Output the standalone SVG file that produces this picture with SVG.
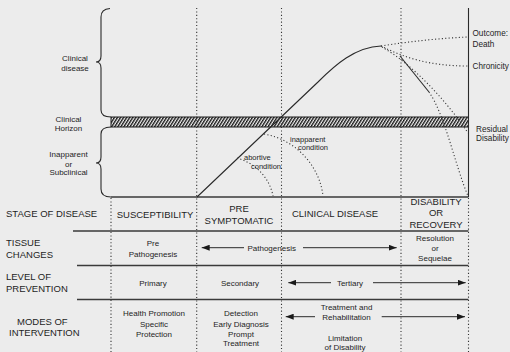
<svg xmlns="http://www.w3.org/2000/svg" width="510" height="352" viewBox="0 0 510 352">
<defs>
<style>
text{font-family:"Liberation Sans",Arial,sans-serif;fill:#1e1e1e}
.cap{font-size:9.5px}
.t8{font-size:8px}
.t85{font-size:8.2px}
.t75{font-size:7.5px}
.mid{text-anchor:middle}
.dot{fill:none;stroke:#333;stroke-width:1.1;stroke-dasharray:1.1 2.3}
.sol{fill:none;stroke:#2a2a2a;stroke-width:1.1}
.rule{fill:none;stroke:#3a3a3a;stroke-width:1.3}
.arr{fill:none;stroke:#2a2a2a;stroke-width:1;marker-end:url(#ah)}
</style>
<marker id="ah" markerUnits="userSpaceOnUse" markerWidth="8" markerHeight="6" refX="8" refY="3" orient="auto">
<path d="M0,0 L8,3 L0,6 z" fill="#1a1a1a"/>
</marker>
<pattern id="hatch" width="2.6" height="6" patternUnits="userSpaceOnUse" patternTransform="rotate(32)">
<rect width="2.6" height="6" fill="#f2f2f2"/>
<rect width="1.35" height="6" fill="#151515"/>
</pattern>
</defs>
<rect width="510" height="352" fill="#ececec"/>

<g id="plot-frame">
<rect x="111" y="117" width="357.5" height="10" fill="url(#hatch)" stroke="#1a1a1a" stroke-width="1"/>
<path class="sol" d="M110,8.5 Q101,9 101,17 L101,56 Q101,62 96,62 Q101,62 101,68 L101,110 Q101,117 111,117"/>
<path class="sol" d="M111,127 Q101,127 101,134 L101,157 Q101,163 96,163 Q101,163 101,169 L101,189 Q101,197 111,197"/>
<line class="rule" x1="111" y1="197" x2="468.5" y2="197"/>
<line class="sol" x1="468.5" y1="8" x2="468.5" y2="197"/>
</g>

<g id="gridlines">
<line class="dot" x1="196.7" y1="8" x2="196.7" y2="352"/>
<line class="dot" x1="281.5" y1="8" x2="281.5" y2="352"/>
<line class="dot" x1="401" y1="8" x2="401" y2="352"/>
<line class="dot" x1="111" y1="198" x2="111" y2="352"/>
<line class="dot" x1="468.5" y1="198" x2="468.5" y2="352"/>
<line class="rule" x1="73" y1="231" x2="468.5" y2="231"/>
<line class="rule" x1="77" y1="265.5" x2="468.5" y2="265.5"/>
<line class="rule" x1="77" y1="299.5" x2="468.5" y2="299.5"/>
</g>

<g id="connectors">
<path class="sol" d="M197,197 L318,82 C335,65 355,47 381,46"/>
<path class="dot" d="M381,46 Q425,39 468,37"/>
<path class="dot" d="M381,46 C405,58 430,66 468,66"/>
<path class="dot" d="M382,47 C412,64 446,100 468,133"/>
<path class="sol" stroke-width="0.8" d="M400,56 L429,92"/>
<path class="dot" d="M429,92 C445,115 455,165 468,196"/>
<path class="dot" d="M264,134 C298,140 320,168 323,196"/>
<path class="dot" d="M237,158 C258,164 270,180 273,196"/>
<line class="arr" x1="244" y1="247.7" x2="201.7" y2="247.7"/>
<line class="arr" x1="303" y1="247.7" x2="396.7" y2="247.7"/>
<line class="arr" x1="331" y1="282.7" x2="288.3" y2="282.7"/>
<line class="arr" x1="373" y1="282.7" x2="465.7" y2="282.7"/>
<line class="arr" x1="315" y1="316.7" x2="285.7" y2="316.7"/>
<line class="arr" x1="381.7" y1="316.7" x2="465" y2="316.7"/>
</g>

<g id="axis-labels">
<text class="t8 mid" x="75" y="61">Clinical</text>
<text class="t8 mid" x="75" y="70.5">disease</text>
<text class="t8 mid" x="68.5" y="122">Clinical</text>
<text class="t8 mid" x="68.5" y="130.5">Horizon</text>
<text class="t8 mid" x="68.5" y="157">Inapparent</text>
<text class="t8 mid" x="68.5" y="166.5">or</text>
<text class="t8 mid" x="68.5" y="175">Subclinical</text>
<text class="t85" x="472.5" y="36">Outcome:</text>
<text class="t85" x="472.5" y="46.5">Death</text>
<text class="t85" x="472.5" y="69">Chronicity</text>
<text class="t85" x="476" y="132">Residual</text>
<text class="t85" x="476" y="141">Disability</text>
<text class="t75" x="244" y="159.5">abortive</text>
<text class="t75" x="251" y="168.5">condition</text>
<text class="t75" x="290" y="141.5">inapparent</text>
<text class="t75" x="298" y="150">condition</text>
</g>

<g id="row-stage">
<text class="cap" x="6" y="217">STAGE OF DISEASE</text>
<text class="cap mid" x="155" y="217.5">SUSCEPTIBILITY</text>
<text class="cap mid" x="239" y="212">PRE</text>
<text class="cap mid" x="239" y="223.5">SYMPTOMATIC</text>
<text class="cap mid" x="335" y="217">CLINICAL DISEASE</text>
<text class="cap mid" x="436" y="204.5">DISABILITY</text>
<text class="cap mid" x="436" y="216">OR</text>
<text class="cap mid" x="436" y="227.5">RECOVERY</text>
</g>

<g id="row-tissue">
<text class="cap" x="6" y="246">TISSUE</text>
<text class="cap" x="6" y="257.5">CHANGES</text>
<text class="t8 mid" x="153" y="246">Pre</text>
<text class="t8 mid" x="153" y="256.5">Pathogenesis</text>
<text class="t8 mid" x="271.7" y="250.6">Pathogenesis</text>
<text class="t8 mid" x="435" y="241">Resolution</text>
<text class="t8 mid" x="435" y="250.6">or</text>
<text class="t8 mid" x="435" y="260.6">Sequelae</text>
</g>

<g id="row-prevention">
<text class="cap" x="6" y="279.5">LEVEL OF</text>
<text class="cap" x="6" y="291.5">PREVENTION</text>
<text class="t8 mid" x="153" y="285.7">Primary</text>
<text class="t8 mid" x="240" y="285.7">Secondary</text>
<text class="t8 mid" x="350" y="285.7">Tertiary</text>
</g>

<g id="row-intervention">
<text class="cap" x="17" y="325">MODES OF</text>
<text class="cap" x="9" y="336">INTERVENTION</text>
<text class="t8 mid" x="154" y="316">Health Promotion</text>
<text class="t8 mid" x="154" y="326.5">Specific</text>
<text class="t8 mid" x="154" y="336.5">Protection</text>
<text class="t8 mid" x="241" y="316">Detection</text>
<text class="t8 mid" x="241" y="326.7">Early Diagnosis</text>
<text class="t8 mid" x="241" y="336.8">Prompt</text>
<text class="t8 mid" x="241" y="346.2">Treatment</text>
<text class="t8 mid" x="346.5" y="309.6">Treatment and</text>
<text class="t8 mid" x="346.5" y="319.6">Rehabilitation</text>
<text class="t8 mid" x="345" y="340.6">Limitation</text>
<text class="t8 mid" x="345" y="350.2">of Disability</text>
</g>
</svg>
